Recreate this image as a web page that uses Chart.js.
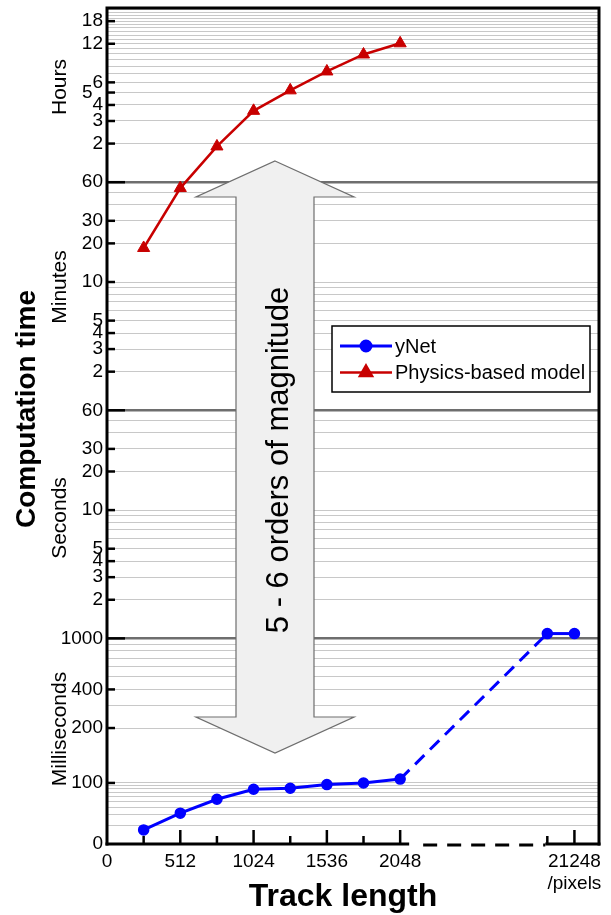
<!DOCTYPE html>
<html>
<head>
<meta charset="utf-8">
<script src="https://cdn.jsdelivr.net/npm/chart.js@4.4.1/dist/chart.umd.min.js"></script>
<style>
  html, body { margin: 0; padding: 0; background: #fff; }
  #wrap { width: 611px; height: 915px; }
</style>
</head>
<body>
<div id="wrap"><canvas id="chart" width="611" height="915"></canvas></div>
<script>
// track length in pixels
const trackLength = [256, 512, 768, 1024, 1280, 1536, 1792, 2048];
const yNetLength = [256, 512, 768, 1024, 1280, 1536, 1792, 2048, 20992, 21248];
// computation time
const yNetMs = [17, 32, 54, 79, 82, 94, 100, 105, 1090, 1090];
const physicsHours = [0.307, 0.9, 1.9, 3.6, 5.2, 7.3, 9.9, 12.1];

// x ticks
const xTickValues = [0, 256, 512, 768, 1024, 1280, 1536, 1792, 2048, 20992, 21248];
const xTickLabels = ['0', '', '512', '', '1024', '', '1536', '', '2048', '', ['21248', '/pixels']];

// y ticks, one list per band
const hourTicks = [2, 3, 4, 5, 6, 12, 18];
const minuteTicks = [2, 3, 4, 5, 10, 20, 30, 60];
const secondTicks = [2, 3, 4, 5, 10, 20, 30, 60];
const msTicks = [10, 100, 200, 400, 1000];
const msTickLabels = ['0', '100', '200', '400', '1000'];

const FONT = 'Liberation Sans, Arial, sans-serif';

// broken log axis: below 200 ms the decades get squeezed
const yKnotsLog = [-2, -1, Math.log10(0.2)];
const yKnotsPos = [-1.603, -1.127, Math.log10(0.2)];
function yPos(sec) {
  const l = Math.log10(sec);
  if (l >= yKnotsLog[2]) return l;
  const i = l >= yKnotsLog[1] ? 1 : 0;
  const t = (l - yKnotsLog[i]) / (yKnotsLog[i + 1] - yKnotsLog[i]);
  return yKnotsPos[i] + t * (yKnotsPos[i + 1] - yKnotsPos[i]);
}
// broken x axis: the 21k section is pulled in next to 2048
function xPos(px) {
  return px < 10000 ? px : 3076 + (px - 20992) * 0.74;
}

// gridlines / ticks for the y axis
const yTicks = [];
function addBand(grid, labels, toSec, labelText) {
  grid.forEach(v => {
    const isLast = v === grid[grid.length - 1];
    const lab = labels.includes(v);
    yTicks.push({
      value: yPos(toSec(v)),
      lbl: lab ? (labelText ? labelText(v) : String(v)) : '',
      kind: isLast ? 'dark' : (lab ? 'major' : 'minor')
    });
  });
}
const hourGrid = [];
for (let h = 2; h <= 22; h++) hourGrid.push(h);
const subGrid = [2, 3, 4, 5, 6, 7, 8, 9, 10, 20, 30, 40, 50, 60];
const msGrid = [20, 30, 40, 50, 60, 70, 80, 90, 100, 200, 300, 400, 500, 600, 700, 800, 900, 1000];

hourGrid.forEach(h => yTicks.push({
  value: yPos(h * 3600),
  lbl: hourTicks.includes(h) ? (h === 5 ? '5  ' : String(h)) : '',
  kind: hourTicks.includes(h) ? 'major' : 'minor'
}));
addBand(subGrid, minuteTicks, m => m * 60);
addBand(subGrid, secondTicks, s => s);
addBand(msGrid, msTicks, ms => ms / 1000, ms => msTickLabels[msTicks.indexOf(ms)]);
yTicks.push({ value: yPos(msTicks[0] / 1000), lbl: msTickLabels[0], kind: 'axis' });
yTicks.sort((a, b) => a.value - b.value);

const xTicks = xTickValues.map((v, i) => ({
  value: xPos(v),
  lbl: xTickLabels[i],
  kind: v === 0 ? 'axis' : (xTickLabels[i] ? 'major' : 'minor')
}));

const yNetPts = yNetLength.map((x, i) => ({ x: xPos(x), y: yPos(yNetMs[i] / 1000) }));
const physicsPts = trackLength.map((x, i) => ({ x: xPos(x), y: yPos(physicsHours[i] * 3600) }));

function rotText(ctx, text, x, y, font) {
  ctx.save();
  ctx.translate(x, y);
  ctx.rotate(-Math.PI / 2);
  ctx.font = font;
  ctx.textAlign = 'center';
  ctx.textBaseline = 'alphabetic';
  ctx.fillText(text, 0, 0);
  ctx.restore();
}

const extras = {
  id: 'extras',
  beforeDatasetsDraw(chart) {
    const { ctx, chartArea: a } = chart;
    const ys = chart.scales.y, xs = chart.scales.x;

    // y tick marks, inside the plot
    ctx.save();
    ctx.strokeStyle = '#000';
    ctx.lineWidth = 2.5;
    yTicks.forEach(t => {
      if (t.kind !== 'major' && t.kind !== 'dark') return;
      const py = ys.getPixelForValue(t.value);
      ctx.beginPath();
      ctx.moveTo(a.left, py);
      ctx.lineTo(a.left + (t.kind === 'dark' ? 18 : 8), py);
      ctx.stroke();
    });
    xTicks.forEach(t => {
      if (t.kind === 'axis') return;
      const px = xs.getPixelForValue(t.value);
      ctx.beginPath();
      ctx.moveTo(px, a.bottom);
      ctx.lineTo(px, a.bottom - (t.kind === 'major' ? 14 : 8));
      ctx.stroke();
    });
    ctx.restore();

    // double arrow
    const cx = 275, top = 161, headTop = 197, headBot = 717, bot = 753, hw = 79, sw = 39;
    ctx.save();
    ctx.beginPath();
    ctx.moveTo(cx, top);
    ctx.lineTo(cx + hw, headTop);
    ctx.lineTo(cx + sw, headTop);
    ctx.lineTo(cx + sw, headBot);
    ctx.lineTo(cx + hw, headBot);
    ctx.lineTo(cx, bot);
    ctx.lineTo(cx - hw, headBot);
    ctx.lineTo(cx - sw, headBot);
    ctx.lineTo(cx - sw, headTop);
    ctx.lineTo(cx - hw, headTop);
    ctx.closePath();
    ctx.fillStyle = '#f0f0f0';
    ctx.fill();
    ctx.strokeStyle = '#6e6e6e';
    ctx.lineWidth = 1.2;
    ctx.stroke();
    ctx.fillStyle = '#000';
    rotText(ctx, '5 - 6 orders of magnitude', 288, 460, '31px ' + FONT);
    ctx.restore();
  },
  afterDatasetsDraw(chart) {
    const { ctx, chartArea: a } = chart;
    const xs = chart.scales.x;
    ctx.save();
    ctx.strokeStyle = '#000';
    ctx.lineWidth = 3;
    // frame: left, top, right
    ctx.beginPath();
    ctx.moveTo(a.left, a.bottom + 1.5);
    ctx.lineTo(a.left, a.top);
    ctx.lineTo(a.right, a.top);
    ctx.lineTo(a.right, a.bottom + 1.5);
    ctx.stroke();
    // bottom axis with dashed break
    const b1 = xs.getPixelForValue(xPos(2048)) + 9;
    const b2 = xs.getPixelForValue(xPos(20992)) - 2;
    ctx.beginPath();
    ctx.moveTo(a.left - 1.5, a.bottom);
    ctx.lineTo(b1, a.bottom);
    ctx.moveTo(b2, a.bottom);
    ctx.lineTo(a.right + 1.5, a.bottom);
    ctx.stroke();
    ctx.setLineDash([14, 10]);
    ctx.beginPath();
    ctx.moveTo(b1 + 14, a.bottom + 1);
    ctx.lineTo(b2, a.bottom + 1);
    ctx.stroke();
    ctx.setLineDash([]);

    // legend
    const bx = a.right - 267, by = a.top + 318, bw = 258, bh = 66;
    ctx.fillStyle = '#fff';
    ctx.fillRect(bx, by, bw, bh);
    ctx.lineWidth = 1.5;
    ctx.strokeRect(bx, by, bw, bh);
    const rows = [
      { label: 'yNet', color: '#0000ff', style: 'circle', r: 5 },
      { label: 'Physics-based model', color: '#c80000', style: 'triangle', r: 7 }
    ];
    rows.forEach((row, i) => {
      const ry = by + 20 + i * 26.5;
      ctx.strokeStyle = row.color;
      ctx.lineWidth = row.style === 'circle' ? 3 : 2.5;
      ctx.beginPath();
      ctx.moveTo(bx + 8, ry);
      ctx.lineTo(bx + 60, ry);
      ctx.stroke();
      ctx.fillStyle = row.color;
      Chart.helpers.drawPoint(ctx, { pointStyle: row.style, radius: row.r, rotation: 0, borderWidth: 1 }, bx + 34, ry);
      ctx.fillStyle = '#000';
      ctx.font = '20px ' + FONT;
      ctx.textAlign = 'left';
      ctx.textBaseline = 'middle';
      ctx.fillText(row.label, bx + 63, ry + 1);
    });

    // titles
    ctx.fillStyle = '#000';
    rotText(ctx, 'Hours', 66, 87, '21px ' + FONT);
    rotText(ctx, 'Minutes', 66, 287, '21px ' + FONT);
    rotText(ctx, 'Seconds', 66, 518, '21px ' + FONT);
    rotText(ctx, 'Milliseconds', 66, 729, '21px ' + FONT);
    rotText(ctx, 'Computation time', 35, 409, 'bold 28px ' + FONT);
    ctx.font = 'bold 32px ' + FONT;
    ctx.textAlign = 'center';
    ctx.textBaseline = 'alphabetic';
    ctx.fillText('Track length', 343, 906);
    ctx.restore();
  }
};

new Chart(document.getElementById('chart').getContext('2d'), {
  type: 'line',
  data: {
    datasets: [{
      label: 'yNet',
      data: yNetPts,
      borderColor: '#0000ff',
      backgroundColor: '#0000ff',
      borderWidth: 3,
      pointRadius: 5,
      pointBorderWidth: 1.5,
      pointStyle: 'circle',
      segment: {
        borderDash: c => c.p0DataIndex === 7 ? [13, 8] : undefined
      }
    }, {
      label: 'Physics-based model',
      data: physicsPts,
      borderColor: '#c80000',
      backgroundColor: '#c80000',
      borderWidth: 2.5,
      pointRadius: 7,
      pointBorderWidth: 1,
      pointStyle: 'triangle'
    }]
  },
  options: {
    responsive: false,
    animation: false,
    devicePixelRatio: 1,
    layout: { padding: { top: 5, right: 12, left: 0, bottom: 0 } },
    plugins: {
      legend: { display: false },
      tooltip: { enabled: false }
    },
    scales: {
      x: {
        type: 'linear',
        min: 0,
        max: xPos(21480),
        afterBuildTicks: s => { s.ticks = xTicks.map(t => ({ ...t })); },
        afterFit: s => { s.height = 71; s.paddingLeft = 0; s.paddingRight = 0; },
        grid: { display: false, drawTicks: false },
        border: { display: false },
        ticks: {
          autoSkip: false,
          maxRotation: 0,
          padding: 6,
          color: '#000',
          font: { family: FONT, size: 19 },
          callback: (v, i, ts) => ts[i].lbl
        }
      },
      y: {
        type: 'linear',
        min: yPos(msTicks[0] / 1000),
        max: yPos(22.8 * 3600),
        afterBuildTicks: s => { s.ticks = yTicks.map(t => ({ ...t })); },
        afterFit: s => { s.width = 107; s.paddingTop = 0; s.paddingBottom = 0; },
        grid: {
          drawTicks: false,
          color: c => c.tick && c.tick.kind === 'dark' ? '#6e6e6e'
                    : c.tick && c.tick.kind === 'axis' ? 'rgba(0,0,0,0)' : '#c8c8c8',
          lineWidth: c => c.tick && c.tick.kind === 'dark' ? 2.5 : 1
        },
        border: { display: false },
        ticks: {
          autoSkip: false,
          padding: 4,
          color: '#000',
          font: { family: FONT, size: 19 },
          callback: (v, i, ts) => ts[i].lbl
        }
      }
    }
  },
  plugins: [extras]
});
</script>
</body>
</html>
